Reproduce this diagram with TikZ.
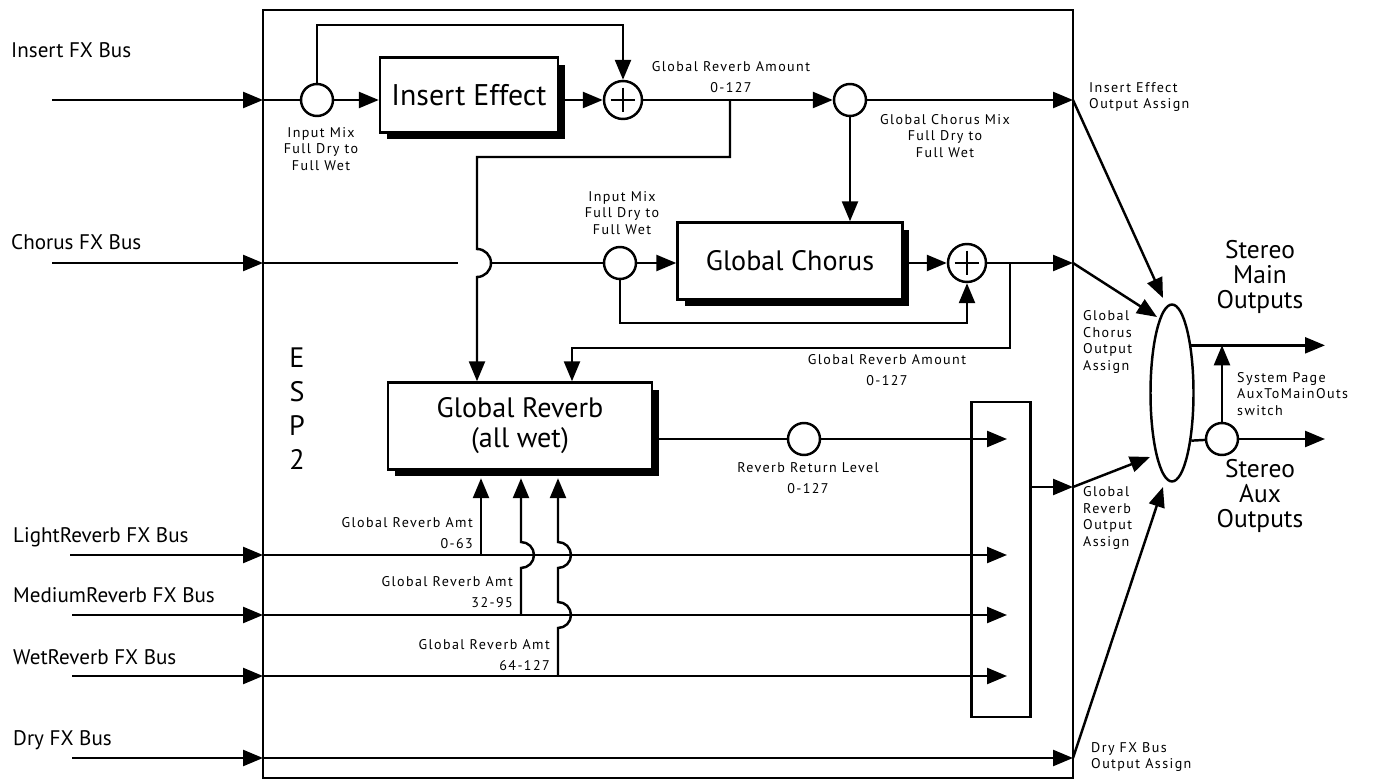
\documentclass[tikz,border=0pt]{standalone}
\usepackage{fontspec}
\setmainfont{PT Sans}
\newfontfamily\smallfont[LetterSpace=10]{PT Sans}
\usetikzlibrary{
  arrows.meta,
  positioning,
  shapes.geometric,
  shadows
}

\begin{document}
\begin{tikzpicture}[
        x=0.02cm, y=-0.02cm,
        line width=1.4pt,
        >={Triangle[length=4mm,width=3.2mm]},
        fxbox/.style={draw, fill=white, line width=1.4pt, inner sep=0pt, align=center,
            font=\fontsize{16}{17}\selectfont,
            drop shadow={shadow xshift=0.14cm, shadow yshift=-0.14cm, fill=black, opacity=1}},
        mixc/.style={circle, draw, fill=white, minimum size=0.64cm, inner sep=0pt},
        sumc/.style={mixc, minimum size=0.76cm, path picture={
            \draw[line width=1.4pt, shorten <=3.8pt, shorten >=3.8pt]
                (path picture bounding box.north) -- (path picture bounding box.south);
            \draw[line width=1.4pt, shorten <=3.8pt, shorten >=3.8pt]
                (path picture bounding box.west) -- (path picture bounding box.east);}},
        lbl/.style={font=\smallfont\fontsize{8}{9.6}\selectfont, align=center, inner sep=0pt},
        outlbl/.style={lbl, align=left, anchor=west},
        buslbl/.style={font=\fontsize{12}{14}\selectfont, anchor=west, inner sep=0pt},
        stlbl/.style={font=\fontsize{14.5}{14.5}\selectfont, align=center, inner sep=0pt}
    ]
    \useasboundingbox (0,0) rectangle (1377,780);

    % ESP2 frame
    \draw (263,10) rectangle (1073,778);
    \coordinate (fl) at (263,0);
    \coordinate (fr) at (1073,0);
    \node[font=\fontsize{16}{19.3}\selectfont, align=center, inner sep=0pt] (esp) at (297,409) {E\\S\\P\\2};

    % input busses
    \node[buslbl] (insbus) at (10,50) {Insert FX Bus};
    \node[buslbl] (chobus) at (10,242) {Chorus FX Bus};
    \node[buslbl] (ltbus) at (12,537) {LightReverb FX Bus};
    \node[buslbl] (mdbus) at (12,595) {MediumReverb FX Bus};
    \node[buslbl] (wtbus) at (12,657) {WetReverb FX Bus};
    \node[buslbl] (drybus) at (12,740) {Dry FX Bus};
    \coordinate (insin) at (52,100);
    \coordinate (choin) at (52,263);
    \coordinate (ltin) at (70,555);
    \coordinate (mdin) at (72,615);
    \coordinate (wtin) at (72,676);
    \coordinate (dryin) at (72,758);
    \foreach \b in {insin,choin,ltin,mdin,wtin,dryin}
        \draw[->] (\b) -- (\b -| fl);

    % insert effect
    \node[mixc] (mix1) at (317,100) {};
    \node[fxbox, minimum width=3.56cm, minimum height=1.5cm, font=\fontsize{17}{19}\selectfont] (insfx) at (469,95) {Insert Effect};
    \node[sumc] (sum1) at (623,100) {};
    \node[mixc] (mix2) at (850,100) {};
    \coordinate (byp) at (470,25);
    \draw (insin -| fl) -- (mix1);
    \draw[->] (mix1) -- (insfx.west |- mix1);
    \draw[->] (mix1.north) |- (byp) -| (sum1.north);
    \draw[->] (insfx.east |- sum1) -- (sum1);
    \draw[->] (sum1) -- (mix2);
    \coordinate (insout) at (fr |- mix2);
    \draw[->] (mix2) -- (insout);
    \node[lbl] (inmix1) at (321,149) {Input Mix\\Full Dry to\\Full Wet};
    \node[lbl] (rvamt1) at (731,77) {Global Reverb Amount\\[2.3pt]0-127};
    \node[lbl] (chmix) at (945,136) {Global Chorus Mix\\Full Dry to\\Full Wet};

    % global chorus
    \node[mixc] (mix3) at (620,263) {};
    \node[fxbox, minimum width=4.5cm, minimum height=1.54cm] (chofx) at (790,261) {Global Chorus};
    \node[sumc] (sum2) at (967,263) {};
    \coordinate (hopL) at (458,263);
    \coordinate (hopR) at (491,263);
    \coordinate (fbk) at (790,323);
    \draw (choin -| fl) -- (hopL);
    \draw (hopR) -- (mix3);
    \draw[->] (mix2) -- (mix2 |- chofx.north);
    \draw[->] (mix3) -- (chofx.west |- mix3);
    \draw[->] (chofx.east |- sum2) -- (sum2);
    \draw[->] (mix3.south) |- (fbk) -| (sum2.south);
    \coordinate (choout) at (fr |- sum2);
    \draw[->] (sum2) -- (choout);
    \node[lbl] (inmix2) at (622,213) {Input Mix\\Full Dry to\\Full Wet};

    % global reverb
    \node[fxbox, minimum width=5.28cm, minimum height=1.74cm] (revfx) at (520,426) {Global Reverb\\(all wet)};
    \coordinate (tap1) at (730,100);
    \coordinate (snd1) at (477,157);
    \coordinate (hopA) at (477,249);
    \draw[->] (tap1) |- (snd1) -- (hopA) arc[start angle=90, end angle=-90, radius=0.28cm] -- (snd1 |- revfx.north);
    \coordinate (tap2) at (1010,263);
    \coordinate (snd2) at (572,348);
    \draw[->] (tap2) |- (snd2) -- (snd2 |- revfx.north);
    \node[lbl] (rvamt2) at (887,370) {Global Reverb Amount\\[2.3pt]0-127};

    % reverb return and mixer
    \node[mixc] (mix4) at (804,439) {};
    \node[draw, minimum width=1.18cm, minimum height=6.3cm, inner sep=0pt] (sumbox) at (1001,559.5) {};
    \coordinate (sumin) at (1007,0);
    \draw (revfx.east |- mix4) -- (mix4);
    \draw[->] (mix4) -- (mix4 -| sumin);
    \node[lbl] (retlvl) at (808,478) {Reverb Return Level\\[2.3pt]0-127};
    \foreach \b in {ltin,mdin,wtin}
        \draw[->] (\b -| fl) -- (\b -| sumin);
    \coordinate (revout) at (1073,487);
    \draw[->] (sumbox.east |- revout) -- (revout);
    \coordinate (dryout) at (dryin -| fr);
    \draw[->] (dryin -| fl) -- (dryout);

    % reverb amount sends
    \coordinate (amt1) at (481,555);
    \coordinate (amt2) at (521,615);
    \coordinate (amt3) at (558,676);
    \draw[->, shorten >=0.15cm] (amt1) -- (amt1 |- revfx.south);
    \draw[->, shorten >=0.15cm] (amt2) -- (521,568) arc[start angle=-90, end angle=90, radius=0.26cm]
        -- (amt2 |- revfx.south);
    \draw[->, shorten >=0.15cm] (amt3) -- (558,628) arc[start angle=-90, end angle=90, radius=0.26cm]
        -- (558,568) arc[start angle=-90, end angle=90, radius=0.26cm] -- (amt3 |- revfx.south);
    \node[lbl, align=right, anchor=east] (amtlbl1) at (474,533) {Global Reverb Amt\\[2.3pt]0-63};
    \node[lbl, align=right, anchor=east] (amtlbl2) at (514,592) {Global Reverb Amt\\[2.3pt]32-95};
    \node[lbl, align=right, anchor=east] (amtlbl3) at (551,655) {Global Reverb Amt\\[2.3pt]64-127};

    % output assign
    \node[ellipse, draw, fill=white, minimum width=0.86cm, minimum height=3.54cm, inner sep=0pt] (outs) at (1172,393) {};
    \coordinate (tipins) at (1163,298);
    \coordinate (tipcho) at (1157,317);
    \coordinate (tiprev) at (1150,457);
    \coordinate (tipdry) at (1163,487);
    \draw[->] (insout) -- (tipins);
    \draw[->] (choout) -- (tipcho);
    \draw[->] (revout) -- (tiprev);
    \draw[->] (dryout) -- (tipdry);
    \node[outlbl] (insasg) at (1088,97) {Insert Effect\\Output Assign};
    \node[outlbl] (choasg) at (1082,342) {Global\\Chorus\\Output\\Assign};
    \node[outlbl] (revasg) at (1082,518) {Global\\Reverb\\Output\\Assign};
    \node[outlbl] (dryasg) at (1090,757) {Dry FX Bus\\Output Assign};

    % stereo outputs
    \coordinate (outx) at (1325,0);
    \node[mixc] (mix5) at (1222,439) {};
    \draw[->] (outs.68) -- (outs.68 -| outx);
    \draw (outs.-68) -- (mix5);
    \draw[->] (mix5) -- (mix5 -| outx);
    \draw[->] (mix5.north) -- (mix5 |- outs.68);
    \node[outlbl] (swlbl) at (1236,394) {System Page\\AuxToMainOuts\\switch};
    \node[stlbl] (mainlbl) at (1260,277) {Stereo\\Main\\Outputs};
    \node[stlbl] (auxlbl) at (1260,496) {Stereo\\Aux\\Outputs};
\end{tikzpicture}
\end{document}
